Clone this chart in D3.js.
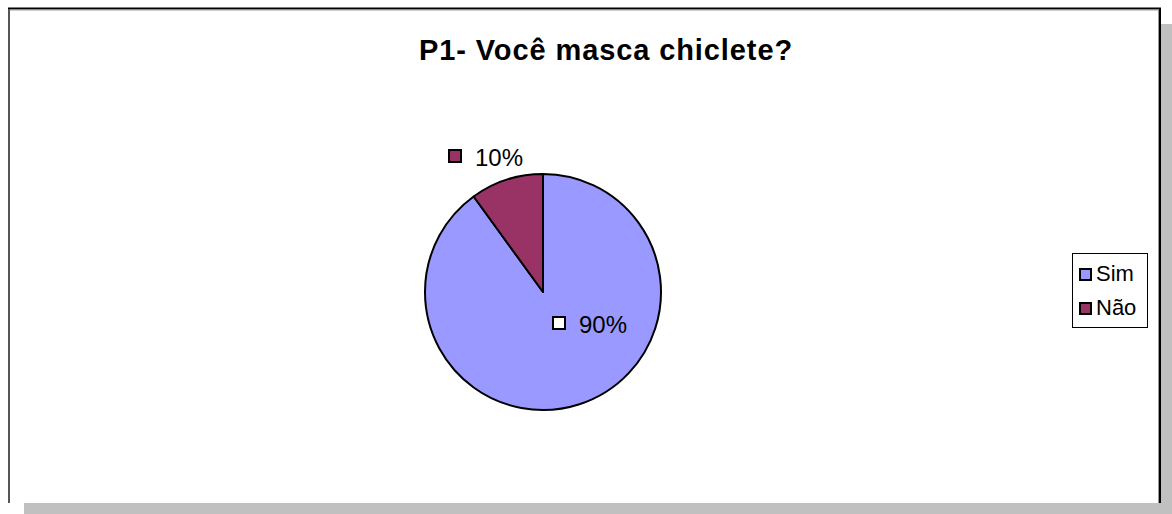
<!DOCTYPE html>
<html lang="en">
<head>
<meta charset="utf-8">
<title>P1- Você masca chiclete?</title>
<script src="https://cdn.jsdelivr.net/npm/d3@7"></script>
<style>
  body { margin: 0; background: #fff; }
  text { font-family: "Liberation Sans", Arial, sans-serif; }
</style>
</head>
<body>
<script>
var categories = ["Sim", "Não"];
var values = [90, 10];
var labels = ["90%", "10%"];
var colors = ["#9999ff", "#993366"];

var w = 1172, h = 514;
var svg = d3.select("body").append("svg")
  .attr("width", w).attr("height", h);

// shadow
svg.append("rect").attr("x", 1161).attr("y", 24).attr("width", 11).attr("height", 490).attr("fill", "#c0c0c0");
svg.append("rect").attr("x", 24).attr("y", 503).attr("width", 1148).attr("height", 11).attr("fill", "#c0c0c0");

// frame
svg.append("rect").attr("x", 8).attr("y", 8).attr("width", 1152).attr("height", 495).attr("fill", "#fff");
svg.append("line").attr("x1", 8).attr("y1", 8.5).attr("x2", 1161).attr("y2", 8.5).attr("stroke", "#000").attr("stroke-width", 2);
svg.append("line").attr("x1", 9).attr("y1", 10).attr("x2", 1159).attr("y2", 10).attr("stroke", "#999").attr("stroke-width", 1);
svg.append("line").attr("x1", 9).attr("y1", 9).attr("x2", 9).attr("y2", 503).attr("stroke", "#555").attr("stroke-width", 2);
svg.append("line").attr("x1", 1160).attr("y1", 8).attr("x2", 1160).attr("y2", 503).attr("stroke", "#000").attr("stroke-width", 2);
svg.append("line").attr("x1", 1158.5).attr("y1", 10).attr("x2", 1158.5).attr("y2", 503).attr("stroke", "#999").attr("stroke-width", 1);

svg.append("text")
  .attr("x", 606).attr("y", 60)
  .attr("text-anchor", "middle")
  .attr("font-weight", "bold")
  .style("font-size", "29px")
  .style("letter-spacing", "0.9px")
  .text("P1- Você masca chiclete?");

var cx = 543, cy = 292, r = 118;
var pie = d3.pie().sort(null).value(function(d) { return d; });
var arcs = pie(values);
var arc = d3.arc().innerRadius(0).outerRadius(r);

var g = svg.append("g").attr("transform", "translate(" + cx + "," + cy + ")");
g.selectAll("path")
  .data(arcs)
  .enter().append("path")
  .attr("d", arc)
  .attr("fill", function(d, i) { return colors[i]; })
  .attr("stroke", "#000")
  .attr("stroke-width", 2)
  .attr("stroke-linejoin", "round");

// data labels
var labelPos = [[579, 333], [475, 166]];
var keyFill = ["#fff", colors[1]];
labels.forEach(function(t, i) {
  var p = labelPos[i];
  svg.append("rect")
    .attr("x", p[0] - 26).attr("y", p[1] - 16)
    .attr("width", 12).attr("height", 12)
    .attr("fill", keyFill[i]).attr("stroke", "#000").attr("stroke-width", 2);
  svg.append("text")
    .attr("x", p[0]).attr("y", p[1])
    .style("font-size", "24px")
    .attr("fill", "#000")
    .text(t);
});

// legend
var lg = svg.append("g");
lg.append("rect").attr("x", 1072.5).attr("y", 253.5).attr("width", 75).attr("height", 74)
  .attr("fill", "#fff").attr("stroke", "#000").attr("stroke-width", 1);
categories.forEach(function(c, i) {
  var y = 281 + i * 34;
  lg.append("rect")
    .attr("x", 1080).attr("y", y - 12)
    .attr("width", 11).attr("height", 11)
    .attr("fill", colors[i]).attr("stroke", "#000").attr("stroke-width", 2);
  lg.append("text")
    .attr("x", 1096).attr("y", y)
    .style("font-size", "22px")
    .text(c);
});
</script>
</body>
</html>
